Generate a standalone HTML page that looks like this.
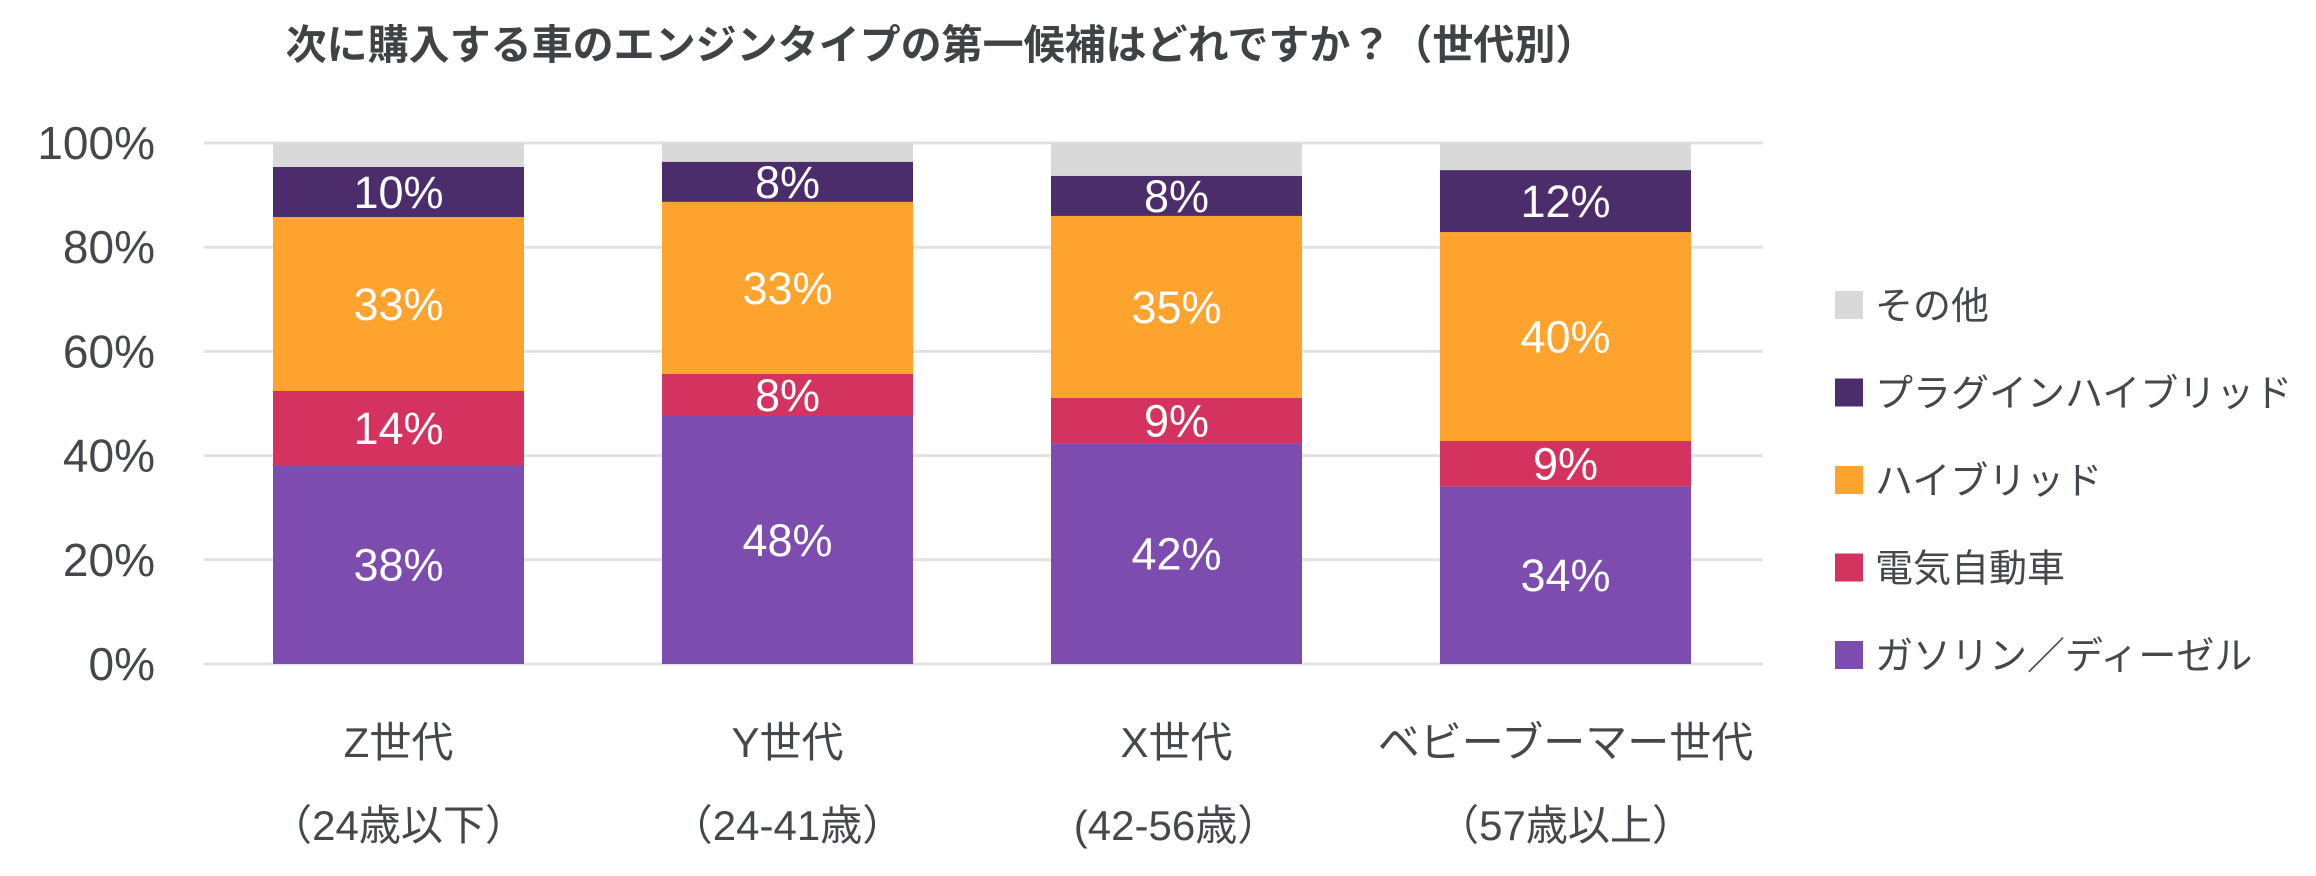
<!DOCTYPE html>
<html><head><meta charset="utf-8"><style>
html,body{margin:0;padding:0;background:#fff;}
svg text{font-family:"Liberation Sans","Noto Sans CJK JP",sans-serif;}
</style></head><body>
<svg id="chart" width="2316" height="871" viewBox="0 0 2316 871" xmlns="http://www.w3.org/2000/svg">
<text x="941" y="59" text-anchor="middle" font-size="41" font-weight="bold" fill="#3f4346">次に購入する車のエンジンタイプの第一候補はどれですか？（世代別）</text>
<g id="grid"></g>
<g id="yticks"></g>
<g id="bars"></g>
<g id="xlabels"></g>
<g id="legend"></g>
</svg>
<script>
const categoriesLine1 = ["Z世代","Y世代","X世代","ベビーブーマー世代"];
const categoriesLine2 = ["（24歳以下）","（24-41歳）","(42-56歳）","（57歳以上）"];
const seriesNames = ["ガソリン／ディーゼル","電気自動車","ハイブリッド","プラグインハイブリッド","その他"];
const gasoline = [38.2, 47.6, 42.4, 34.1];
const electric = [14.2, 8.1, 8.7, 8.7];
const hybrid = [33.4, 33.0, 34.9, 40.1];
const plugin = [9.6, 7.7, 7.7, 11.9];
const other = [4.6, 3.6, 6.3, 5.2];
const yTicks = [0, 20, 40, 60, 80, 100];
const legendOrder = [4, 3, 2, 1, 0];

const NS = "http://www.w3.org/2000/svg";
const series = [gasoline, electric, hybrid, plugin, other];
const colors = ["#7d4caf", "#d3335e", "#fda32e", "#4b2d6b", "#d9d9d9"];
const showLabel = [true, true, true, true, false];
const plotTop = 143, plotBottom = 664, plotLeft = 204, plotRight = 1763;
const yScale = v => plotBottom - v / 100 * (plotBottom - plotTop);
const bandStart = 273, bandStep = 389, barW = 251;
const xScale = i => bandStart + i * bandStep;

function mk(tag, attrs, parent) {
  const e = document.createElementNS(NS, tag);
  for (const k in attrs) e.setAttribute(k, attrs[k]);
  parent.appendChild(e);
  return e;
}
const grid = document.getElementById('grid');
const yt = document.getElementById('yticks');
yTicks.forEach(t => {
  const l = mk('line', {x1: plotLeft, x2: plotRight, y1: yScale(t), y2: yScale(t), stroke: '#e2e2e2', 'stroke-width': 3}, grid);
  
  
  const tx = mk('text', {x: 155, y: yScale(t) + 16, 'text-anchor': 'end', 'font-size': 46, fill: '#44484c'}, yt);
  tx.textContent = t + '%';
  
  
});
const bars = document.getElementById('bars');
categoriesLine1.forEach((c, i) => {
  let cum = 0;
  series.forEach((s, k) => {
    const v = s[i];
    const y0 = yScale(cum), y1 = yScale(cum + v);
    const r = mk('rect', {x: xScale(i), y: y1, width: barW, height: y0 - y1, fill: colors[k]}, bars);
    
    
    if (showLabel[k]) {
      const t = mk('text', {x: xScale(i) + barW / 2, y: (y0 + y1) / 2 + 16, 'text-anchor': 'middle', 'font-size': 45, fill: '#ffffff'}, bars);
      t.textContent = Math.round(v) + '%';
      
      
    }
    cum += v;
  });
});
const xl = document.getElementById('xlabels');
categoriesLine1.forEach((c, i) => {
  const cx = xScale(i) + barW / 2;
  const t1 = mk('text', {x: cx, y: 757, 'text-anchor': 'middle', 'font-size': 42, fill: '#44484c'}, xl);
  t1.textContent = c;
  
  
  const t2 = mk('text', {x: cx, y: 840, 'text-anchor': 'middle', 'font-size': 42, fill: '#44484c'}, xl);
  t2.textContent = categoriesLine2[i];
  
  
});
const lg = document.getElementById('legend');
legendOrder.forEach((k, j) => {
  const y = 291 + j * 87.5;
  const r = mk('rect', {x: 1835, y: y, width: 28, height: 28, fill: colors[k]}, lg);
  
  
  const t = mk('text', {x: 1875, y: y + 28, 'font-size': 38, fill: '#44484c'}, lg);
  t.textContent = seriesNames[k];
  
  
});
</script>
</body></html>
